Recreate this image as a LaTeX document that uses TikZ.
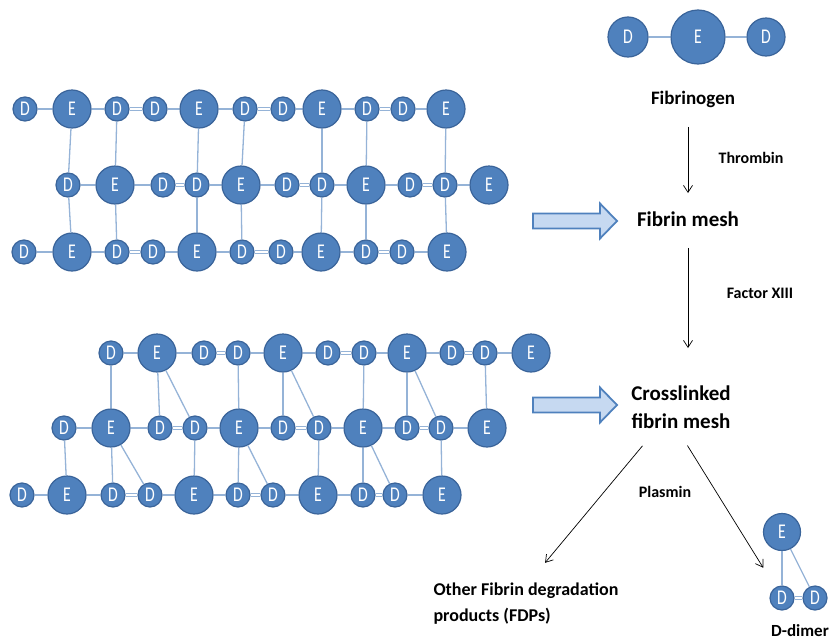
\documentclass[tikz,border=0pt]{standalone}
\usepackage{fontspec}
\setmainfont{Carlito}
\newfontfamily\domfont{Carlito}[FakeStretch=0.75]
\usetikzlibrary{arrows.meta}
\definecolor{domfill}{HTML}{4F81BD}
\definecolor{domline}{HTML}{3A649A}
\definecolor{linkblue}{HTML}{95B3D7}
\definecolor{arrowfill}{HTML}{C6D9F1}
\tikzset{
  dnode/.style={circle, draw=domline, fill=domfill, line width=1.2pt, minimum size=24, inner sep=0, text=white, font=\domfont\fontsize{21}{21}\selectfont},
  enode/.style={dnode, minimum size=38},
  dom/.code={\if#1D\tikzset{dnode}\else\tikzset{enode}\fi},
  link/.style={draw=linkblue, line width=1.3pt},
  dlink/.style={draw=linkblue, line width=1pt, double=white, double distance=1.6pt},
  blockarrow/.style={draw=domfill, fill=arrowfill, line width=1.8pt, line join=miter},
  lbl/.style={font=\bfseries\fontsize{19}{22}\selectfont},
  biglbl/.style={font=\bfseries\fontsize{21}{28}\selectfont, align=center},
  enzyme/.style={font=\bfseries\fontsize{16}{18}\selectfont},
  react/.style={->, line width=0.7pt, black}
}
\begin{document}
\begin{tikzpicture}[x=1pt, y=-1pt, >={Straight Barb[length=7pt,width=9pt]}]
\useasboundingbox (0,0) rectangle (832,640);

% fibrin mesh
\foreach \t/\x [count=\i] in {D/25,E/72,D/117,D/155,E/199,D/245,D/283,E/322,D/367,D/403,E/446}
  \node[dom=\t] (ta\i) at (\x,109) {\t};
\foreach \t/\x [count=\i] in {D/68,E/115,D/163,D/197,E/241,D/287,D/322,E/366,D/410,D/445,E/489}
  \node[dom=\t] (tb\i) at (\x,185) {\t};
\foreach \t/\x [count=\i] in {D/24,E/72,D/117,D/153,E/197,D/242,D/281,E/321,D/366,D/402,E/447}
  \node[dom=\t] (tc\i) at (\x,252) {\t};

% crosslinked mesh
\foreach \t/\x [count=\i] in {D/111,E/157,D/204,D/238,E/283,D/328,D/364,E/407,D/452,D/485,E/531}
  \node[dom=\t] (ba\i) at (\x,353) {\t};
\foreach \t/\x [count=\i] in {D/64,E/111,D/160,D/195,E/239,D/283,D/319,E/363,D/407,D/441,E/487}
  \node[dom=\t] (bb\i) at (\x,428) {\t};
\foreach \t/\x [count=\i] in {D/22,E/67,D/113,D/150,E/194,D/238,D/273,E/318,D/363,D/395,E/442}
  \node[dom=\t] (bc\i) at (\x,495) {\t};

% links along the rows
\foreach \r in {ta,tb,tc,ba,bb,bc}{
  \foreach \a/\b in {1/2,2/3,4/5,5/6,7/8,8/9,10/11}
    \draw[link] (\r\a) -- (\r\b);
  \foreach \a/\b in {3/4,6/7,9/10}
    \draw[dlink] (\r\a) -- (\r\b);
}

% links between the rows
\foreach \a/\b in {2/1,3/2,5/4,6/5,8/7,9/8,11/10}
  \draw[link] (ta\a) -- (tb\b);
\foreach \a/\b in {1/2,2/3,4/5,5/6,7/8,8/9,10/11}
  \draw[link] (tb\a) -- (tc\b);
\foreach \a/\b in {1/2,2/3,2/4,4/5,5/6,5/7,7/8,8/9,8/10,10/11}{
  \draw[link] (ba\a) -- (bb\b);
  \draw[link] (bb\a) -- (bc\b);
}

% block arrows
\foreach \y in {221,405}
  \draw[blockarrow] (533,\y-7.5) -- (600,\y-7.5) -- (600,\y-17.5) -- (617,\y)
    -- (600,\y+17.5) -- (600,\y+7.5) -- (533,\y+7.5) -- cycle;

% fibrinogen
\node[dnode, minimum size=40] (fgd1) at (628,37) {D};
\node[enode, minimum size=54] (fge) at (698,37) {E};
\node[dnode, minimum size=38] (fgd2) at (766,37) {D};
\draw[link] (fgd1) -- (fge);
\draw[link] (fge) -- (fgd2);

\node[lbl] (fibrinogen) at (693,99) {Fibrinogen};
\node[biglbl] (fibrin) at (688,219) {Fibrin mesh};
\node[biglbl] (cross) at (681,407) {Crosslinked\\fibrin mesh};
\node[lbl, font=\bfseries\fontsize{18}{26}\selectfont, align=left, anchor=west] (fdp) at (430,604) {Other Fibrin degradation\\products (FDPs)};

\node[enzyme] (thrombin) at (751,158) {Thrombin};
\node[enzyme] (factor) at (760,293) {Factor XIII};
\node[enzyme] (plasmin) at (665,492) {Plasmin};

\draw[react, shorten <=16, shorten >=15] (fibrin |- fibrinogen.south) -- (fibrin);
\draw[react, shorten <=18, shorten >=34] (fibrin) -- (fibrin |- cross.north);

% D-dimer
\node[enode, minimum size=37] (dde) at (782,532) {E};
\node[dnode] (ddd1) at (782,598) {D};
\node[dnode] (ddd2) at (815,598) {D};
\draw[link] (dde) -- (ddd1);
\draw[link] (dde) -- (ddd2);
\draw[dlink] (ddd1) -- (ddd2);
\node[lbl, font=\bfseries\fontsize{17}{20}\selectfont] (ddimer) at (800,631) {D-dimer};

\draw[react, shorten <=18, shorten >=22] ([xshift=-27]cross.south) -- ([xshift=5]fdp.north);
\draw[react, shorten <=16, shorten >=23] ([xshift=-2]cross.south) -- (ddd1);
\end{tikzpicture}
\end{document}
